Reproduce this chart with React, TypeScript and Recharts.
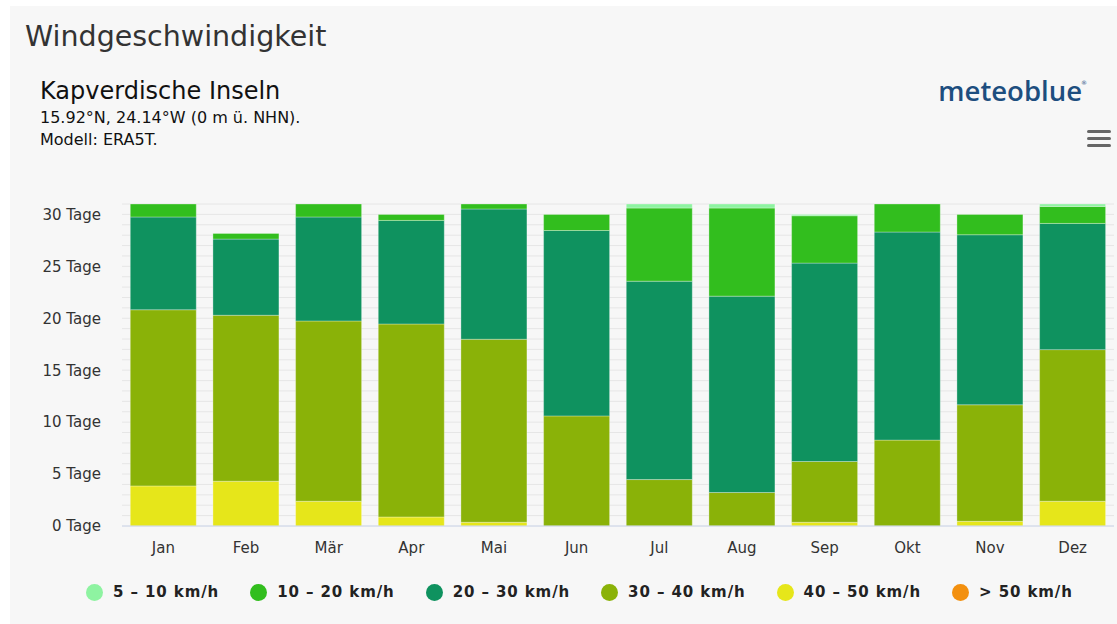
import React from "react";
import { BarChart, Bar, XAxis, YAxis, CartesianGrid } from "recharts";

const months = ["Jan", "Feb", "Mär", "Apr", "Mai", "Jun", "Jul", "Aug", "Sep", "Okt", "Nov", "Dez"];
const s5to10 = [0, 0, 0, 0, 0, 0, 0.39, 0.39, 0.13, 0, 0, 0.23];
const s10to20 = [1.25, 0.55, 1.25, 0.58, 0.48, 1.55, 7.04, 8.48, 4.56, 2.7, 1.96, 1.64];
const s20to30 = [8.93, 7.33, 10.01, 9.97, 12.54, 17.85, 19.1, 18.91, 19.1, 20.03, 16.37, 12.15];
const s30to40 = [16.96, 15.98, 17.36, 18.58, 17.62, 10.6, 4.47, 3.22, 5.85, 8.27, 11.22, 14.6];
const s40to50 = [3.86, 4.31, 2.38, 0.87, 0.36, 0, 0, 0, 0.36, 0, 0.45, 2.38];
const sOver50 = [0, 0, 0, 0, 0, 0, 0, 0, 0, 0, 0, 0];

const yTicks = [0, 5, 10, 15, 20, 25, 30];
const gridDays = Array.from({ length: 32 }, (_, i) => i);

const seriesDefs = [
  { key: "s5", name: "5 – 10 km/h", color: "#8ef3a1", values: s5to10 },
  { key: "s10", name: "10 – 20 km/h", color: "#32be1e", values: s10to20 },
  { key: "s20", name: "20 – 30 km/h", color: "#0f925f", values: s20to30 },
  { key: "s30", name: "30 – 40 km/h", color: "#8ab208", values: s30to40 },
  { key: "s40", name: "40 – 50 km/h", color: "#e6e61a", values: s40to50 },
  { key: "s50", name: "> 50 km/h", color: "#f3900f", values: sOver50 },
];

const data = months.map((m, i) => {
  const row: Record<string, any> = { month: m };
  seriesDefs.forEach((s) => {
    row[s.key] = s.values[i];
  });
  return row;
});

const stackOrder = [...seriesDefs].reverse();
const FONT = "'DejaVu Sans', sans-serif";

export default function App() {
  return (
    <div style={{ position: "absolute", left: 0, top: 0, width: 1117, height: 624, background: "#ffffff", overflow: "hidden", fontFamily: FONT }}>
      <div style={{ position: "absolute", left: 10, top: 6, width: 1107, height: 618, background: "#f7f7f7" }} />
      <div style={{ position: "absolute", left: 25, top: 23, fontSize: 28.5, lineHeight: "28px", color: "#333333", whiteSpace: "nowrap" }}>
        Windgeschwindigkeit
      </div>
      <div style={{ position: "absolute", left: 40, top: 79, fontSize: 24, lineHeight: "24px", color: "#111111", whiteSpace: "nowrap" }}>
        Kapverdische Inseln
      </div>
      <div style={{ position: "absolute", left: 40, top: 110, fontSize: 16, lineHeight: "16px", color: "#111111", whiteSpace: "nowrap" }}>
        15.92°N, 24.14°W (0 m ü. NHN).
      </div>
      <div style={{ position: "absolute", left: 40, top: 132, fontSize: 16, lineHeight: "16px", color: "#111111", whiteSpace: "nowrap" }}>
        Modell: ERA5T.
      </div>
      <div style={{ position: "absolute", right: 1117 - 1082, top: 77, fontSize: 27.5, lineHeight: "28px", color: "#1d4e7f", fontFamily: "'Open Sans', sans-serif", fontWeight: 600, whiteSpace: "nowrap" }}>
        meteoblue
      </div>
      <div style={{ position: "absolute", left: 1081, top: 80, fontSize: 6, lineHeight: "6px", color: "#1d4e7f" }}>®</div>
      {[0, 1, 2].map((i) => (
        <div key={i} style={{ position: "absolute", left: 1087, top: 130 + i * 7, width: 24, height: 3, borderRadius: 2, background: "#666666" }} />
      ))}
      <div style={{ position: "absolute", left: 0, top: 0 }}>
        <BarChart
          width={1117}
          height={624}
          data={data}
          margin={{ top: 204, right: 3, bottom: 68, left: 8 }}
          barCategoryGap="10%"
        >
          <CartesianGrid horizontal vertical={false} stroke="#e6e6e6" yAxisId="grid" />
          <XAxis
            dataKey="month"
            height={30}
            tickLine={false}
            tickSize={0}
            tickMargin={16}
            axisLine={{ stroke: "#ccd6eb" }}
            tick={{ fill: "#333333", fontSize: 15, fontFamily: FONT }}
            interval={0}
          />
          <YAxis
            width={114}
            domain={[0, 31]}
            ticks={yTicks}
            tickLine={false}
            axisLine={false}
            tickSize={0}
            tickMargin={21}
            tickFormatter={(v) => `${v} Tage`}
            tick={{ fill: "#333333", fontSize: 15, fontFamily: FONT }}
            allowDataOverflow
          />
          <YAxis yAxisId="grid" hide domain={[0, 31]} ticks={gridDays} interval={0} allowDataOverflow />
          {stackOrder.map((s) => (
            <Bar
              key={s.key}
              dataKey={s.key}
              name={s.name}
              stackId="a"
              fill={s.color}
              stroke="#ffffff"
              strokeOpacity={0.3}
              strokeWidth={1}
              isAnimationActive={false}
            />
          ))}
        </BarChart>
      </div>
      <div style={{ position: "absolute", left: 86, top: 583, display: "flex", alignItems: "center", gap: 31 }}>
        {seriesDefs.map((s) => (
          <div key={s.key} style={{ display: "flex", alignItems: "center" }}>
            <div style={{ width: 17, height: 17, borderRadius: "50%", background: s.color, marginRight: 10 }} />
            <span style={{ fontSize: 15, fontWeight: 700, color: "#222222", letterSpacing: 0.9, whiteSpace: "nowrap", lineHeight: "18px" }}>
              {s.name}
            </span>
          </div>
        ))}
      </div>
    </div>
  );
}
